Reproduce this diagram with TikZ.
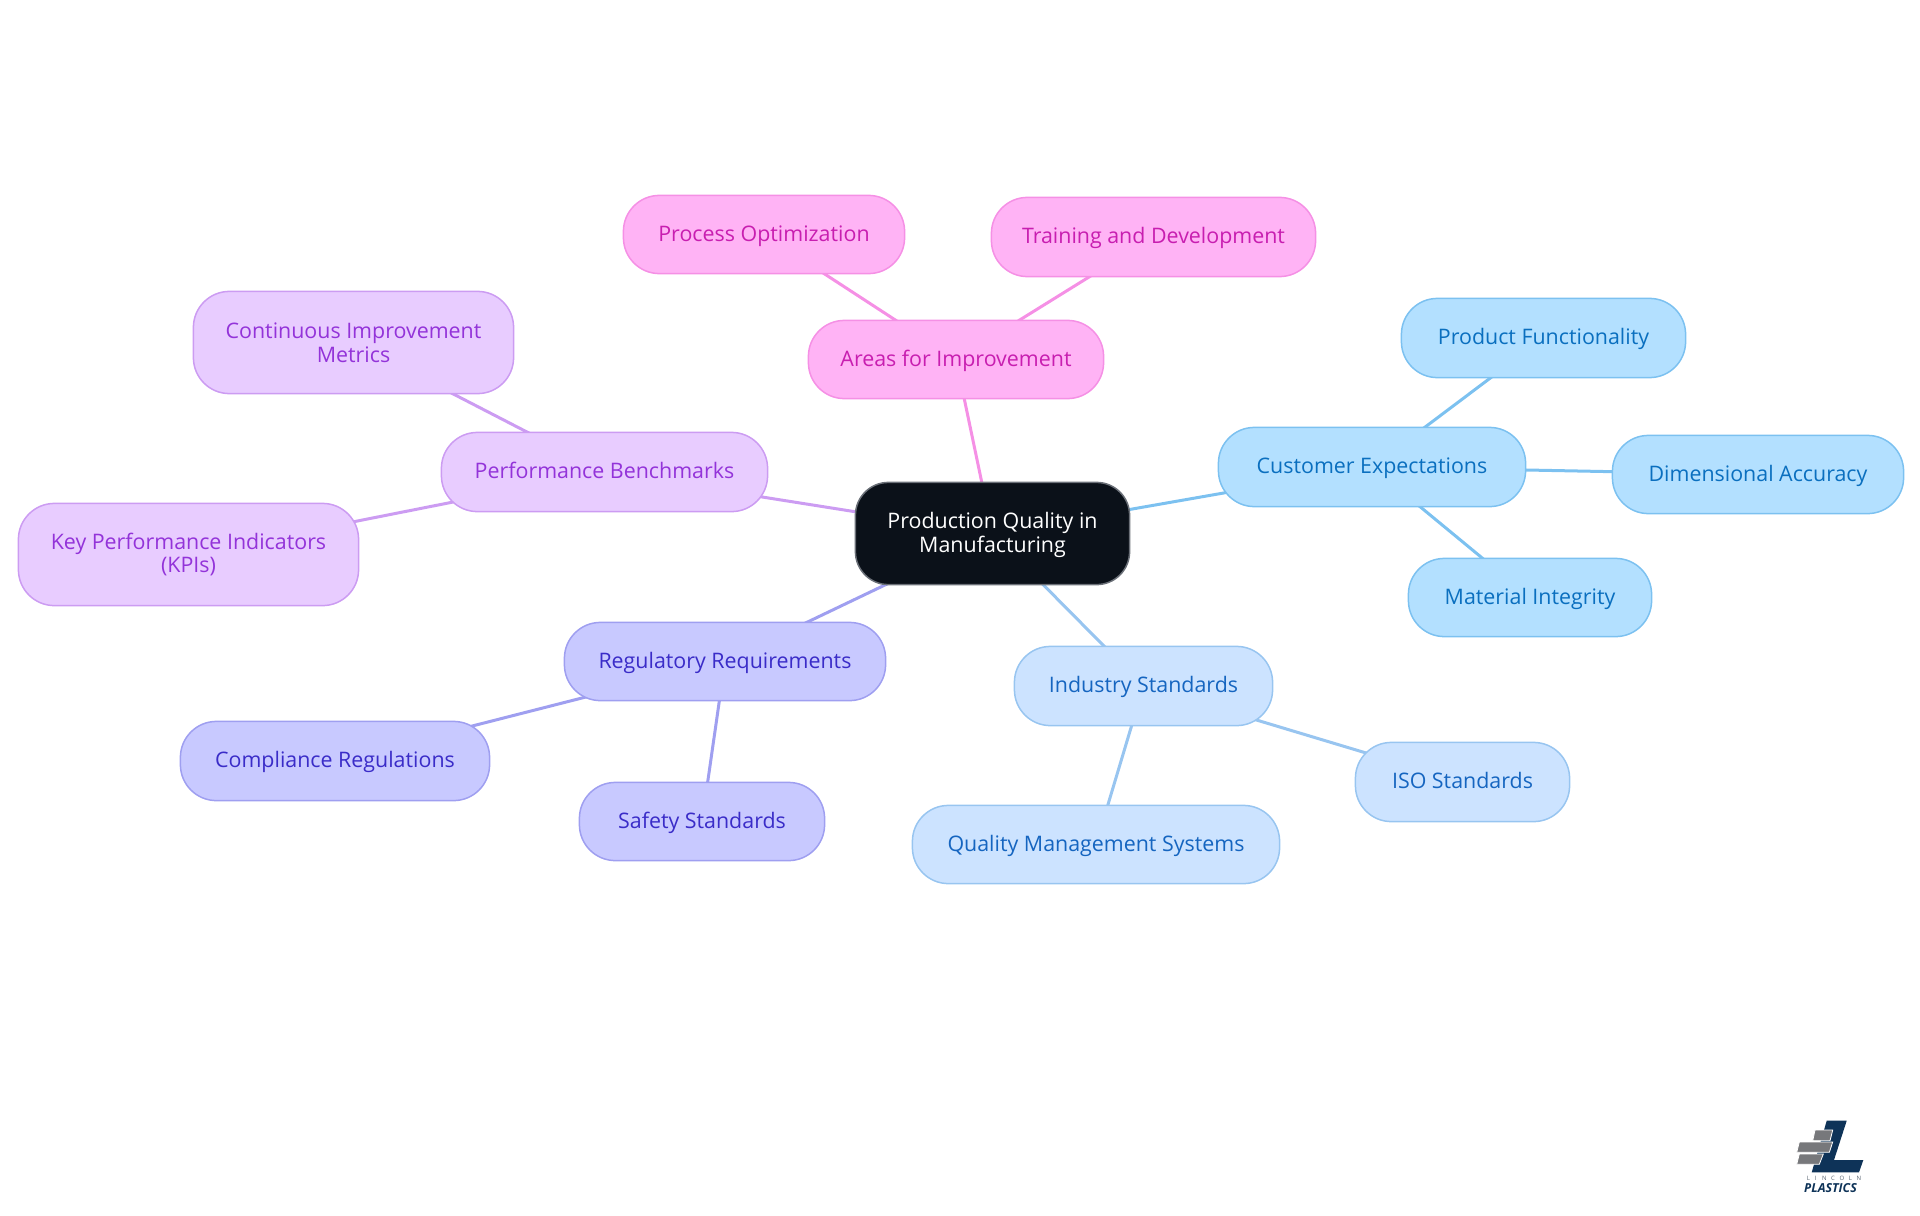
\documentclass[tikz,border=0pt]{standalone}
\usepackage{fontspec}
\setmainfont{Open Sans}
\usetikzlibrary{backgrounds}
\definecolor{cbF}{HTML}{B3E0FF}\definecolor{cbS}{HTML}{7CC1F0}\definecolor{cbT}{HTML}{0A6FBF}
\definecolor{inF}{HTML}{CCE3FF}\definecolor{inS}{HTML}{98C5F0}\definecolor{inT}{HTML}{1565C0}
\definecolor{reF}{HTML}{C8C9FF}\definecolor{reS}{HTML}{9F9FF0}\definecolor{reT}{HTML}{3A2CC8}
\definecolor{peF}{HTML}{E8CCFF}\definecolor{peS}{HTML}{CC9CF2}\definecolor{peT}{HTML}{9333D9}
\definecolor{arF}{HTML}{FFB3F5}\definecolor{arS}{HTML}{F590E5}\definecolor{arT}{HTML}{C81EB0}
\definecolor{rootF}{HTML}{0B1119}\definecolor{rootS}{HTML}{6B7078}
\definecolor{navy}{HTML}{0E3358}\definecolor{brick}{HTML}{77787B}
\tikzset{
  box/.style={rounded corners=18pt,inner sep=0pt,outer sep=0pt,align=center,line width=0.75pt,
    font=\fontsize{10.7}{11.9}\selectfont},
  one/.style={text height=8.5pt,text depth=2pt},
  cust/.style={box,draw=cbS,fill=cbF,text=cbT},
  indu/.style={box,draw=inS,fill=inF,text=inT},
  regu/.style={box,draw=reS,fill=reF,text=reT},
  perf/.style={box,draw=peS,fill=peF,text=peT},
  area/.style={box,draw=arS,fill=arF,text=arT},
  rootbox/.style={box,rounded corners=16.5pt,draw=rootS,fill=rootF,text=white},
  sz/.style 2 args={minimum width=#1*0.5pt-0.4pt,minimum height=#2*0.5pt-0.4pt},
  cLine/.style={line width=1.5pt,draw=#1},
}
\begin{document}
\begin{tikzpicture}[x=0.5pt,y=-0.5pt]
\useasboundingbox (0,0) rectangle (1920,1215);
\node[rootbox,sz={275}{103}] (root) at (992.5,533.5) {\rule{0pt}{9.2pt}Production Quality in\\Manufacturing};
\node[cust,one,sz={308}{80}] (ce) at (1372,467) {Customer Expectations};
\node[cust,one,sz={285}{80}] (pf) at (1543.5,338) {Product Functionality};
\node[cust,one,sz={292}{79}] (da) at (1758,474.5) {Dimensional Accuracy};
\node[cust,one,sz={244}{79}] (mi) at (1530,597.5) {Material Integrity};
\node[indu,one,sz={259}{80}] (is) at (1143.5,686) {Industry Standards};
\node[indu,one,sz={215}{80}] (iso) at (1462.5,782) {ISO Standards};
\node[indu,one,sz={368}{79}] (qms) at (1096,844.5) {Quality Management Systems};
\node[regu,one,sz={322}{79}] (rr) at (725,661.5) {Regulatory Requirements};
\node[regu,one,sz={310}{80}] (cr) at (335,761) {Compliance Regulations};
\node[regu,one,sz={246}{79}] (ss) at (702,821.5) {Safety Standards};
\node[perf,one,sz={327}{80}] (pb) at (604.5,472) {Performance Benchmarks};
\node[perf,sz={321}{103}] (ci) at (353.5,342.5) {Continuous Improvement\\Metrics};
\node[perf,sz={341}{103}] (kpi) at (188.5,554.5) {Key Performance Indicators\\(KPIs)};
\node[area,one,sz={296}{79}] (ai) at (956,359.5) {Areas for Improvement};
\node[area,one,sz={282}{79}] (po) at (764,234.5) {Process Optimization};
\node[area,one,sz={325}{80}] (td) at (1153.5,237) {Training and Development};
\begin{scope}[on background layer]
\draw[cLine=cbS] (root.center)--(ce.center) (ce.center)--(pf.center) (ce.center)--(da.center) (ce.center)--(mi.center);
\draw[cLine=inS] (root.center)--(is.center) (is.center)--(iso.center) (is.center)--(qms.center);
\draw[cLine=reS] (root.center)--(rr.center) (rr.center)--(cr.center) (rr.center)--(ss.center);
\draw[cLine=peS] (root.center)--(pb.center) (pb.center)--(ci.center) (pb.center)--(kpi.center);
\draw[cLine=arS] (root.center)--(ai.center) (ai.center)--(po.center) (ai.center)--(td.center);
\end{scope}
% logo
\fill[navy] (1826.7,1120.7)--(1846.7,1120.7)--(1834,1160)--(1863.3,1160)--(1859,1172.3)--(1811.7,1172.3)--cycle;
\fill[brick,draw=white,line width=0.4pt] (1815,1130)--(1832.7,1130)--(1830,1140.7)--(1812.7,1140.7)--cycle;
\fill[brick,draw=white,line width=0.4pt] (1799.3,1142)--(1832.7,1142)--(1829.3,1152.3)--(1796.7,1152.3)--cycle;
\fill[brick,draw=white,line width=0.4pt] (1799.3,1154)--(1823.3,1154)--(1819.3,1164.3)--(1796.7,1164.3)--cycle;
\node[inner sep=0pt,text=brick!70!navy,font=\fontsize{3}{3}\selectfont] (lin) at (1834,1178.3) {L\hspace{2.3pt}I\hspace{2.9pt}N\hspace{2.3pt}C\hspace{2.3pt}O\hspace{2.3pt}L\hspace{2.3pt}N};
\node[inner sep=0pt,text=navy,font=\fontsize{6.2}{6.5}\selectfont\bfseries\itshape] (pla) at (1830.5,1188.5) {PLASTICS};
\end{tikzpicture}
\end{document}
